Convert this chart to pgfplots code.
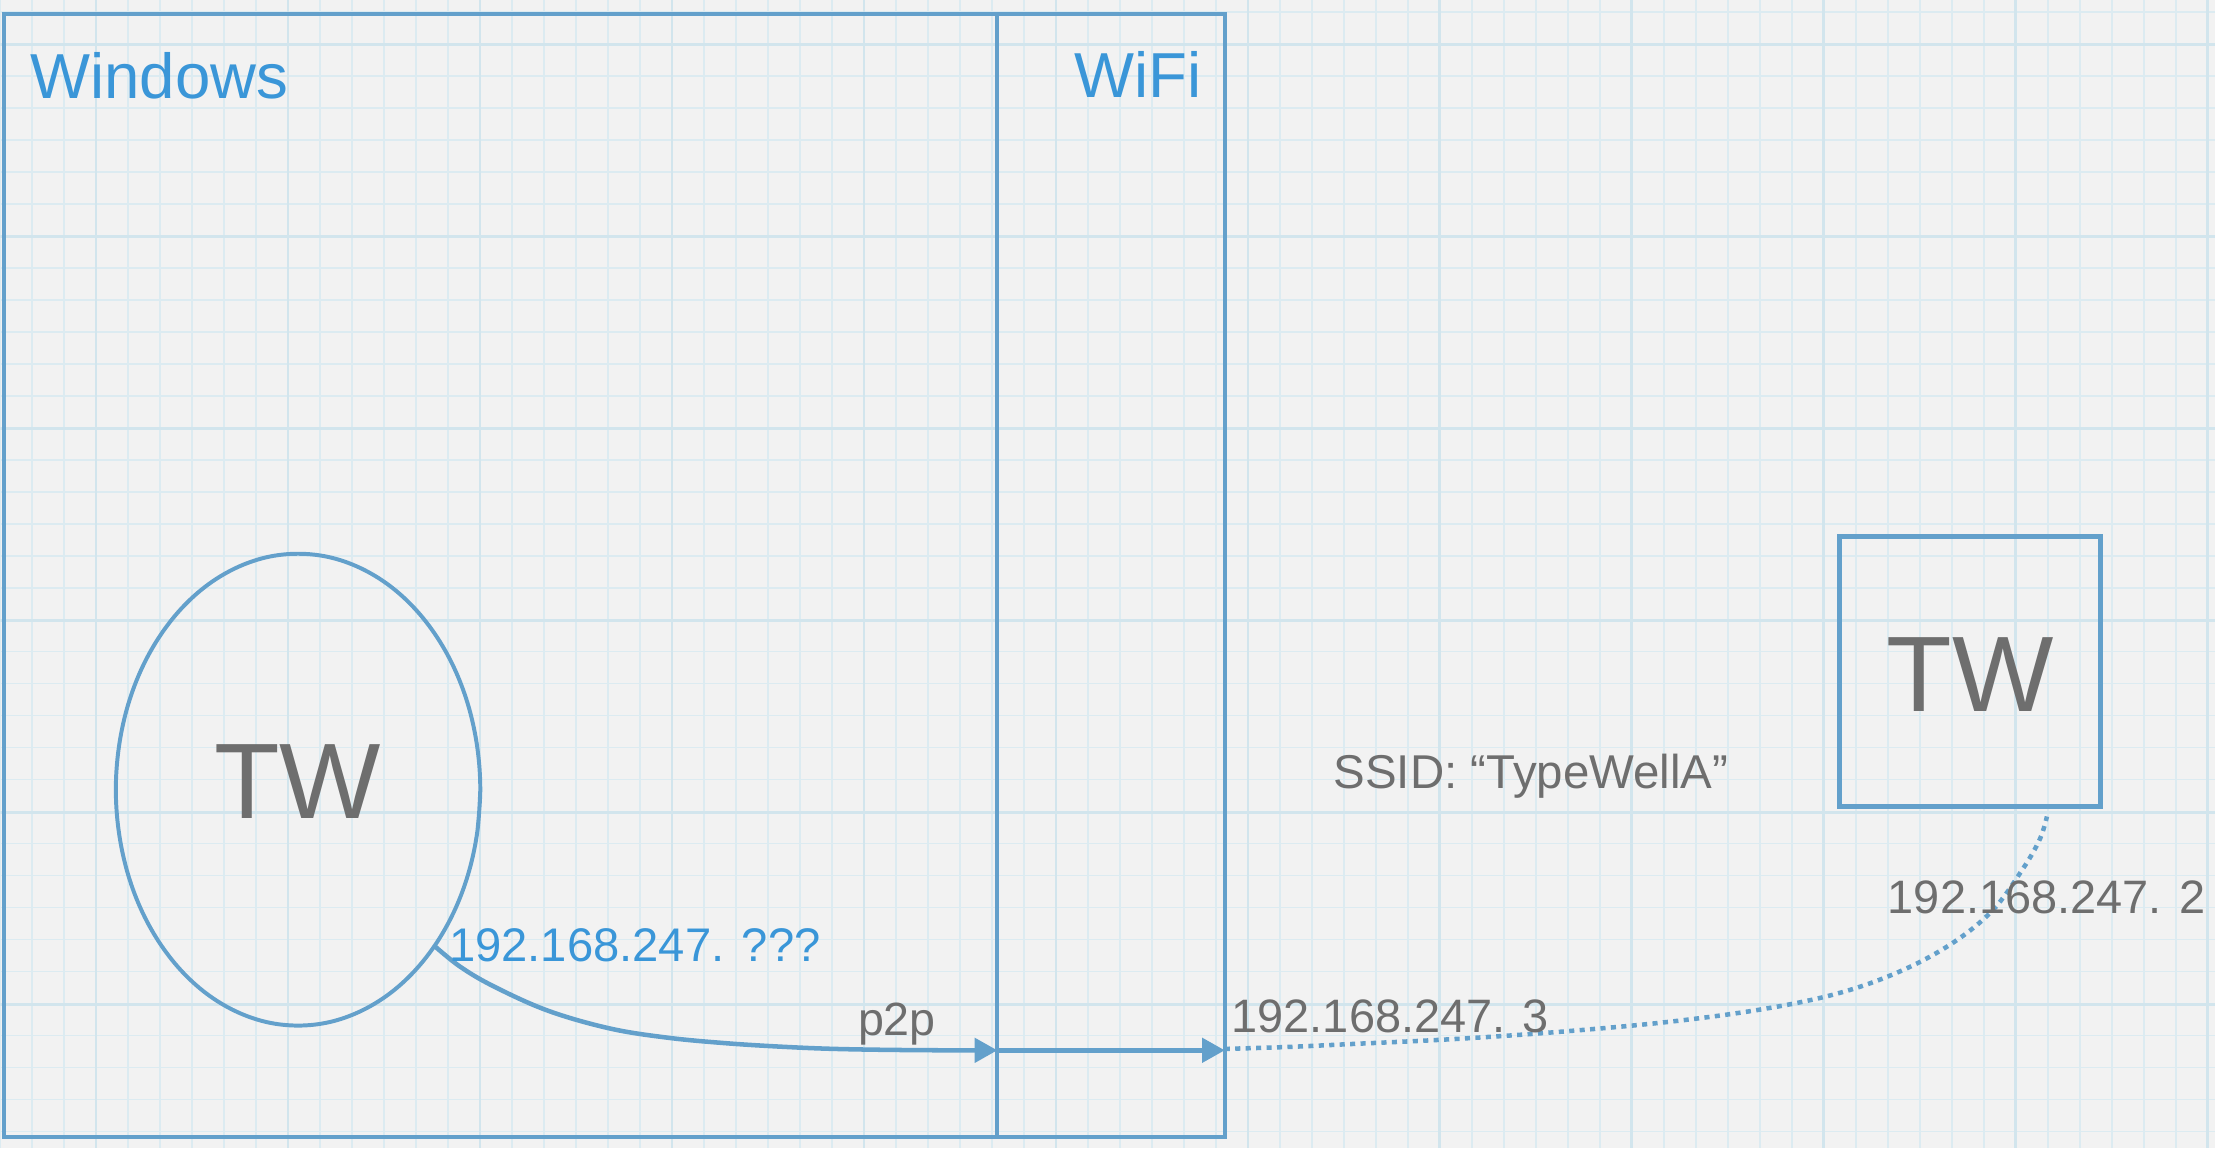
\documentclass[border=0pt]{standalone}
\usepackage{fontspec}
\setmainfont{Liberation Sans}
\usepackage{pgfplots}
\pgfplotsset{compat=1.18}
\usetikzlibrary{arrows.meta}
\definecolor{bgc}{RGB}{242,242,242}
\definecolor{gridc}{RGB}{220,235,241}
\definecolor{gridd}{RGB}{210,229,237}
\definecolor{linec}{RGB}{99,160,203}
\definecolor{textblue}{RGB}{58,150,216}
\definecolor{textgray}{RGB}{110,110,110}
\begin{document}
\begin{tikzpicture}
\begin{axis}[
  width=784pt, height=406.5pt, scale only axis,
  xmin=0, xmax=1568, ymin=0, ymax=813, y dir=reverse,
  axis line style={draw=none},
  axis background/.style={fill=bgc},
  xtick={0,22.65,...,1568}, ytick={8.3,30.95,...,813},
  xticklabels={}, yticklabels={},
  major tick length=0pt,
  grid=major, major grid style={gridc, line width=0.6pt},
  extra x ticks={68,203.9,...,1568}, extra y ticks={31.4,167.3,...,813},
  extra x tick labels={}, extra y tick labels={},
  extra x tick style={major grid style={gridd, line width=1.0pt}},
  extra y tick style={major grid style={gridd, line width=1.0pt}},
  clip=false,
]
% Windows outer box
\addplot[linec, line width=1.5pt, line cap=rect] coordinates {(3,10)(867,10)(867,805)(3,805)(3,10)};
% divider
\addplot[linec, line width=1.5pt] coordinates {(706,10)(706,805)};
% ellipse
\addplot[linec, line width=1.4pt, smooth, tension=0.6] coordinates {
(340,559)(338,588)(332.2,616.1)(322.7,642.5)(309.8,666.3)(293.9,686.9)(275.5,703.6)
(255.1,715.9)(233.4,723.5)(211,726)(188.6,723.5)(166.9,715.9)(146.5,703.6)
(128.1,686.9)(112.2,666.3)(99.3,642.5)(89.8,616.1)(84,588)(82,559)
(84,530)(89.8,501.9)(99.3,475.5)(112.2,451.7)(128.1,431.1)(146.5,414.4)
(166.9,402.1)(188.6,394.5)(211,392)(233.4,394.5)(255.1,402.1)(275.5,414.4)
(293.9,431.1)(309.8,451.7)(322.7,475.5)(332.2,501.9)(338,530)(340,559)(338,588)};
% right TW box
\addplot[linec, line width=1.7pt, line cap=rect] coordinates {(1302,380)(1487,380)(1487,571)(1302,571)(1302,380)};
% solid curved arrow
\addplot[linec, line width=1.6pt, smooth, tension=0.6, -{Triangle[length=8pt,width=8.5pt]}] coordinates {
(308,670)(326,684.5)(350,698.5)(388,715.5)(431.5,728)(472,734.5)(512.8,738.4)(554,741)(594,742.6)(650,743.4)(706,743.5)};
% straight arrow
\addplot[linec, line width=1.6pt, -{Triangle[length=8pt,width=8.5pt]}] coordinates {(706,743.5)(867,743.5)};
% dotted curve
\addplot[linec, line width=1.6pt, smooth, tension=0.6, dash pattern=on 1.8pt off 1.9pt] coordinates {
(867,742.5)(910,741.2)(958,739)(1030,735.5)(1103,730.5)(1180,723.5)(1247,714.5)(1300,703.5)(1343,688.5)(1380,669)(1410,645)(1432,615)(1444,594)(1449,578)};

% texts
\node[anchor=base west, inner sep=0pt, text=textblue, font=\fontsize{22.5}{27}\selectfont] at (axis cs:21,69.6) {Windows};
\node[anchor=base west, inner sep=0pt, text=textblue, font=\fontsize{22.5}{27}\selectfont] at (axis cs:760,69) {WiFi};
\node[anchor=base, inner sep=0pt, text=textgray, font=\fontsize{38}{45}\selectfont] at (axis cs:210.7,579.3) {TW};
\node[anchor=base, inner sep=0pt, text=textgray, font=\fontsize{38}{45}\selectfont] at (axis cs:1394.6,503.8) {TW};
\node[anchor=base west, inner sep=0pt, text=textblue, font=\fontsize{16.7}{20}\selectfont] at (axis cs:317.5,680.8) {192.168.247. ???};
\node[anchor=base west, inner sep=0pt, text=textgray, font=\fontsize{16.5}{20}\selectfont] at (axis cs:607,732.7) {p2p};
\node[anchor=base west, inner sep=0pt, text=textgray, font=\fontsize{16.6}{20}\selectfont] at (axis cs:871.5,731) {192.168.247. 3};
\node[anchor=base west, inner sep=0pt, text=textgray, font=\fontsize{16.6}{20}\selectfont] at (axis cs:1336,646.6) {192.168.247. 2};
\node[anchor=base west, inner sep=0pt, text=textgray, font=\fontsize{16.8}{20}\selectfont] at (axis cs:943.7,558) {SSID: “TypeWellA”};
\end{axis}
\pgfresetboundingbox
\path (current axis.south west) rectangle (current axis.north east);
\end{tikzpicture}
\end{document}
